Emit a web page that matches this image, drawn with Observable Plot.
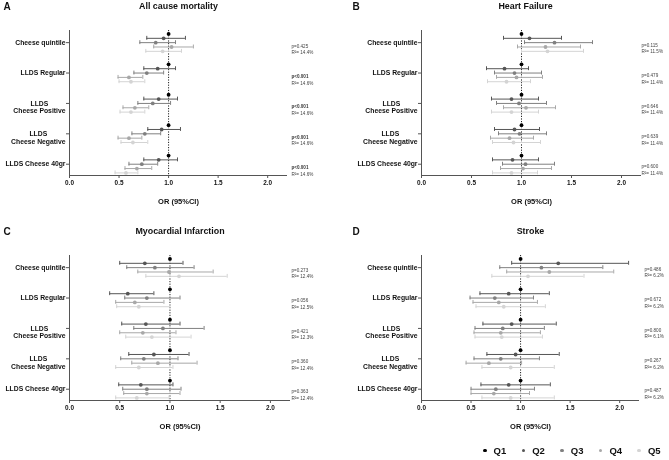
<!DOCTYPE html>
<html>
<head>
<meta charset="utf-8">
<script src="https://cdn.jsdelivr.net/npm/d3@7"></script>
<script src="https://cdn.jsdelivr.net/npm/@observablehq/plot@0.6"></script>
<style>
  body { margin: 0; background: #fff; font-family: "Liberation Sans", Arial, sans-serif; }
  #wrap { position: relative; width: 669px; height: 460px; overflow: hidden; background: #fff; filter: grayscale(1); }
  .panel { position: absolute; }
  #legend { position: absolute; left: 483px; top: 445px; display: flex; align-items: center; }
  #legend .item { width: 38.6px; display: flex; align-items: center; font-size: 9.5px; font-weight: bold; color: #111; }
  #legend .dot { width: 3.6px; height: 3.6px; border-radius: 50%; margin-right: 7px; }
</style>
</head>
<body>
<div id="wrap"></div>
<script>
// ---------- data ----------
const groupLabels = ["Cheese quintile", "LLDS Regular", "LLDS\nCheese Positive", "LLDS\nCheese Negative", "LLDS Cheese 40gr"];
const quintiles = ["Q1", "Q2", "Q3", "Q4", "Q5"];
const qColors = ["#000000", "#565656", "#808080", "#a8a8a8", "#d4d4d4"];
const xTicks = [0, 0.5, 1, 1.5, 2];
const xLabel = "OR (95%CI)";

// Odds ratios for Q2..Q5 (Q1 = reference, OR 1)
const mortalityOR = [[0.95, 0.87, 1.03, 0.94], [0.89, 0.78, 0.60, 0.62], [0.90, 0.84, 0.66, 0.62], [0.93, 0.76, 0.60, 0.64], [0.90, 0.73, 0.68, 0.57]];
const mortalityLo = [[0.78, 0.71, 0.85, 0.77], [0.75, 0.65, 0.49, 0.50], [0.75, 0.69, 0.54, 0.51], [0.79, 0.63, 0.49, 0.52], [0.75, 0.60, 0.56, 0.46]];
const mortalityHi = [[1.17, 1.07, 1.25, 1.13], [1.07, 0.95, 0.74, 0.76], [1.09, 1.02, 0.80, 0.76], [1.12, 0.92, 0.73, 0.79], [1.09, 0.89, 0.83, 0.69]];
const mortalityP = ["p=0.425", "p<0.001", "p<0.001", "p<0.001", "p<0.001"];
const mortalityR2 = ["14.4%", "14.6%", "14.6%", "14.6%", "14.6%"];

const hfOR = [[1.08, 1.33, 1.24, 1.26], [0.83, 0.93, 0.95, 0.85], [0.90, 0.975, 1.045, 0.90], [0.93, 0.98, 0.88, 0.92], [0.91, 1.04, 1.015, 0.90]];
const hfLo = [[0.82, 1.03, 0.96, 1.00], [0.65, 0.73, 0.75, 0.66], [0.70, 0.75, 0.82, 0.70], [0.73, 0.77, 0.69, 0.71], [0.71, 0.81, 0.79, 0.71]];
const hfHi = [[1.40, 1.71, 1.59, 1.62], [1.07, 1.20, 1.21, 1.09], [1.17, 1.25, 1.34, 1.17], [1.18, 1.25, 1.12, 1.19], [1.17, 1.33, 1.30, 1.16]];
const hfP = ["p=0.115", "p=0.479", "p=0.646", "p=0.639", "p=0.600"];
const hfR2 = ["11.5%", "11.4%", "11.4%", "11.4%", "11.4%"];

const miOR = [[0.75, 0.85, 0.99, 1.09], [0.58, 0.77, 0.65, 0.69], [0.76, 0.93, 0.73, 0.82], [0.84, 0.74, 0.88, 0.69], [0.71, 0.77, 0.77, 0.67]];
const miLo = [[0.50, 0.57, 0.68, 0.76], [0.40, 0.55, 0.46, 0.47], [0.52, 0.64, 0.50, 0.56], [0.59, 0.51, 0.62, 0.46], [0.49, 0.53, 0.54, 0.46]];
const miHi = [[1.13, 1.24, 1.43, 1.57], [0.84, 1.10, 0.94, 1.00], [1.10, 1.34, 1.06, 1.21], [1.19, 1.08, 1.27, 1.03], [1.03, 1.11, 1.10, 0.99]];
const miP = ["p=0.273", "p=0.056", "p=0.421", "p=0.360", "p=0.363"];
const miR2 = ["12.4%", "12.5%", "12.3%", "12.4%", "12.4%"];

const strokeOR = [[1.38, 1.21, 1.29, 1.075], [0.88, 0.74, 0.78, 0.83], [0.91, 0.82, 0.80, 0.81], [0.95, 0.80, 0.68, 0.90], [0.88, 0.75, 0.73, 0.90]];
const strokeLo = [[0.91, 0.79, 0.86, 0.71], [0.59, 0.49, 0.52, 0.55], [0.62, 0.54, 0.53, 0.54], [0.66, 0.53, 0.45, 0.61], [0.60, 0.50, 0.50, 0.61]];
const strokeHi = [[2.09, 1.83, 1.94, 1.64], [1.29, 1.13, 1.17, 1.25], [1.36, 1.24, 1.20, 1.22], [1.39, 1.19, 1.01, 1.34], [1.30, 1.14, 1.09, 1.34]];
const strokeP = ["p=0.486", "p=0.672", "p=0.800", "p=0.267", "p=0.487"];
const strokeR2 = ["6.2%", "6.2%", "6.1%", "6.2%", "6.2%"];

// ---------- layout / style ----------
const FONT = '"Liberation Sans", Arial, sans-serif';
const ROWS_PER_GROUP = 7;
const LABEL_FS = 6.8;
const ctx = document.createElement("canvas").getContext("2d");
function textW(s, font) { ctx.font = font; return ctx.measureText(s).width; }

function buildRows(est, lo, hi) {
  const rows = [];
  groupLabels.forEach((lab, g) => {
    quintiles.forEach((q, i) => {
      rows.push({
        g, q, row: g * ROWS_PER_GROUP + i,
        est: i === 0 ? 1 : est[g][i - 1],
        lo: i === 0 ? null : lo[g][i - 1],
        hi: i === 0 ? null : hi[g][i - 1]
      });
    });
  });
  return rows;
}

function panel(cfg) {
  const rows = buildRows(cfg.est, cfg.lo, cfg.hi);
  const ci = rows.filter(d => d.lo != null);
  const yMin = -0.8, yMax = 32.6;
  const centers = groupLabels.map((_, g) => g * ROWS_PER_GROUP + 2);
  const pRows = cfg.p.map((p, g) => ({row: g * ROWS_PER_GROUP + cfg.pOff, p, r2: "R\u00b2= " + cfg.r2[g], bold: p.startsWith("p<")}));

  const labelMarks = [];
  groupLabels.forEach((lab, g) => {
    const lines = lab.split("\n");
    const w = Math.max(...lines.map(l => textW(l, `bold ${LABEL_FS}px ${FONT}`)));
    lines.forEach((line, i) => {
      labelMarks.push(Plot.text([{row: centers[g], t: line}], {
        y: "row", text: "t", frameAnchor: "left", textAnchor: "middle",
        dx: -(4 + w / 2), dy: i * 7.7, fontSize: LABEL_FS, fontWeight: "bold", fill: "#111"
      }));
    });
  });

  return Plot.plot({
    width: cfg.width, height: cfg.height,
    marginLeft: cfg.ml, marginRight: cfg.mr, marginTop: 30, marginBottom: cfg.height - 175,
    style: {fontFamily: FONT, background: "#fff"},
    x: {domain: [0, 2.2], axis: null, label: null},
    y: {domain: [yMin, yMax], reverse: true, axis: null, label: null},
    color: {domain: quintiles, range: qColors},
    marks: [
      Plot.ruleX([1], {stroke: "#222", strokeDasharray: "1.2,1.4", strokeWidth: 1}),
      Plot.ruleX([0], {stroke: "#555", strokeWidth: 1}),
      Plot.ruleY([yMax], {stroke: "#555", strokeWidth: 1}),
      Plot.axisX({ticks: xTicks, tickFormat: d3.format(".1f"), tickSize: 3, tickPadding: 2, fontSize: 6.4, fontWeight: "bold", stroke: "#555", fill: "#111", label: null}),
      Plot.axisY({ticks: centers, tickFormat: () => "", tickSize: 3, stroke: "#555", label: null}),
      Plot.ruleY(ci, {y: "row", x1: "lo", x2: "hi", stroke: "q", strokeWidth: 1}),
      Plot.ruleX(ci, {x: "lo", y1: d => d.row - 0.45, y2: d => d.row + 0.45, stroke: "q", strokeWidth: 1}),
      Plot.ruleX(ci, {x: "hi", y1: d => d.row - 0.45, y2: d => d.row + 0.45, stroke: "q", strokeWidth: 1}),
      Plot.dot(rows, {x: "est", y: "row", fill: "q", r: 1.9}),
      ...labelMarks,
      Plot.text(pRows.filter(d => d.bold), {y: "row", text: "p", frameAnchor: "right", textAnchor: "start", dx: cfg.pdx, fontSize: 4.6, fontWeight: "bold", fill: "#333"}),
      Plot.text(pRows.filter(d => !d.bold), {y: "row", text: "p", frameAnchor: "right", textAnchor: "start", dx: cfg.pdx, fontSize: 4.6, fill: "#444"}),
      Plot.text(pRows, {y: "row", text: "r2", frameAnchor: "right", textAnchor: "start", dx: cfg.pdx, dy: 6.6, fontSize: 4.6, fill: "#444"}),
      Plot.text([cfg.title], {text: d => d, frameAnchor: "top", lineAnchor: "middle", dy: -24, dx: cfg.tdx, fontSize: 8.9, fontWeight: "bold", fill: "#111"}),
      Plot.text([cfg.letter], {text: d => d, frameAnchor: "top-left", textAnchor: "start", lineAnchor: "middle", dx: -cfg.ml + cfg.letterX, dy: -24, fontSize: 10, fontWeight: "bold", fill: "#111"}),
      Plot.text([xLabel], {text: d => d, frameAnchor: "bottom", lineAnchor: "middle", dy: 26, fontSize: 7.5, fontWeight: "bold", fill: "#111"})
    ]
  });
}

const panels = [
  {letter: "A", title: "All cause mortality", est: mortalityOR, lo: mortalityLo, hi: mortalityHi, p: mortalityP, r2: mortalityR2,
   left: 0, top: 0, width: 335, height: 225, ml: 69, mr: 48, pdx: 4, tdx: 0, letterX: 3, pOff: 2.8},
  {letter: "B", title: "Heart Failure", est: hfOR, lo: hfLo, hi: hfHi, p: hfP, r2: hfR2,
   left: 335, top: 0, width: 334, height: 225, ml: 86, mr: 28, pdx: 0, tdx: -6, letterX: 17, pOff: 2.6},
  {letter: "C", title: "Myocardial Infarction", est: miOR, lo: miLo, hi: miHi, p: miP, r2: miR2,
   left: 0, top: 225, width: 335, height: 210, ml: 69, mr: 45, pdx: 1, tdx: 0, letterX: 3, pOff: 2.6},
  {letter: "D", title: "Stroke", est: strokeOR, lo: strokeLo, hi: strokeHi, p: strokeP, r2: strokeR2,
   left: 335, top: 225, width: 334, height: 210, ml: 86, mr: 30, pdx: 5, tdx: 0, letterX: 17, pOff: 2.4}
];

const wrap = document.getElementById("wrap");
for (const cfg of panels) {
  const div = document.createElement("div");
  div.className = "panel";
  div.style.left = cfg.left + "px";
  div.style.top = cfg.top + "px";
  div.style.width = cfg.width + "px";
  div.appendChild(panel(cfg));
  wrap.appendChild(div);
}

// legend
const legend = document.createElement("div");
legend.id = "legend";
quintiles.forEach((q, i) => {
  const item = document.createElement("div");
  item.className = "item";
  const dot = document.createElement("span");
  dot.className = "dot";
  dot.style.background = qColors[i];
  const t = document.createElement("span");
  t.textContent = q;
  item.appendChild(dot);
  item.appendChild(t);
  legend.appendChild(item);
});
wrap.appendChild(legend);
</script>
</body>
</html>
